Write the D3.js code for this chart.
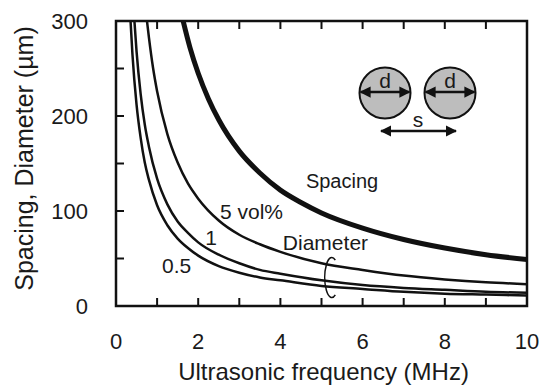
<!DOCTYPE html>
<html>
<head>
<meta charset="utf-8">
<script src="https://cdn.jsdelivr.net/npm/d3@7"></script>
<style>
  body { margin: 0; background: #fff; }
  svg text { font-family: "Liberation Sans", Arial, sans-serif; fill: #1a1a1a; }
</style>
</head>
<body>
<div id="chart"></div>
<script>
// values (frequency in MHz, size in µm)
var spacingF = [1.6, 1.8, 2, 2.25, 2.5, 3, 3.5, 4, 4.5, 5, 6, 7, 8, 9, 10];
var spacingV = [306, 272, 245, 218, 196, 163, 140, 122, 109, 98, 82, 70, 61, 54, 49];

var vol5F = [0.74, 0.8, 0.9, 1, 1.25, 1.5, 1.75, 2, 2.5, 3, 3.5, 4, 5, 6, 7, 8, 9, 10];
var vol5V = [305, 283, 251, 226, 181, 151, 129, 113, 90, 75, 65, 57, 45, 38, 32, 28, 25, 23];

var vol1F = [0.44, 0.5, 0.6, 0.7, 0.8, 1, 1.25, 1.5, 1.75, 2, 2.5, 3, 3.5, 4, 5, 6, 7, 8, 9, 10];
var vol1V = [305, 268, 223, 191, 168, 134, 107, 89, 77, 67, 54, 45, 38, 34, 27, 22, 19, 17, 15, 14];

var vol05F = [0.35, 0.4, 0.5, 0.6, 0.7, 0.8, 1, 1.25, 1.5, 1.75, 2, 2.5, 3, 3.5, 4, 5, 6, 7, 8, 9, 10];
var vol05V = [303, 265, 212, 177, 151, 133, 106, 85, 71, 61, 53, 42, 35, 30, 27, 21, 18, 15, 13, 12, 11];

var xTicks = [0, 2, 4, 6, 8, 10];
var yTicks = [0, 100, 200, 300];

var width = 539, height = 387;
var margin = { top: 21, right: 12, bottom: 81, left: 116 };
var w = width - margin.left - margin.right,
    h = height - margin.top - margin.bottom;

var svg = d3.select("#chart").append("svg")
  .attr("width", width)
  .attr("height", height);

var g = svg.append("g")
  .attr("transform", "translate(" + margin.left + "," + margin.top + ")");

var x = d3.scaleLinear().domain([0, 10]).range([0, w]);
var y = d3.scaleLinear().domain([0, 300]).range([h, 0]);

g.append("clipPath").attr("id", "plot-clip")
  .append("rect").attr("width", w).attr("height", h);

/* ------- CURVES -------*/
var line = d3.line()
  .x(function (d) { return x(d[0]); })
  .y(function (d) { return y(d[1]); })
  .curve(d3.curveMonotoneX);

var series = [
  { f: spacingF, v: spacingV, sw: 5 },
  { f: vol5F, v: vol5V, sw: 2.5 },
  { f: vol1F, v: vol1V, sw: 2.5 },
  { f: vol05F, v: vol05V, sw: 2.5 }
];

g.append("g").attr("clip-path", "url(#plot-clip)")
  .selectAll("path")
  .data(series)
  .enter().append("path")
  .attr("fill", "none")
  .attr("stroke", "#111")
  .attr("stroke-width", function (d) { return d.sw; })
  .attr("d", function (d) { return line(d3.zip(d.f, d.v)); });

/* ------- AXES -------*/
var tickLen = 8;
var xMinor = d3.range(0, 11, 1), yMinor = d3.range(0, 301, 50);

// bottom ticks (inward) + top ticks (inward)
g.append("g").selectAll("line.xb").data(xMinor).enter().append("line")
  .attr("x1", x).attr("x2", x).attr("y1", h).attr("y2", h - tickLen)
  .attr("stroke", "#111").attr("stroke-width", 2);
g.append("g").selectAll("line.xt").data(xMinor).enter().append("line")
  .attr("x1", x).attr("x2", x).attr("y1", 0).attr("y2", tickLen)
  .attr("stroke", "#111").attr("stroke-width", 2);
g.append("g").selectAll("line.yl").data(yMinor).enter().append("line")
  .attr("x1", 0).attr("x2", tickLen).attr("y1", y).attr("y2", y)
  .attr("stroke", "#111").attr("stroke-width", 2);

g.append("rect")
  .attr("width", w).attr("height", h)
  .attr("fill", "none").attr("stroke", "#111").attr("stroke-width", 2.5);

g.append("g").selectAll("text").data(xTicks).enter().append("text")
  .attr("x", x).attr("y", h + 43)
  .attr("text-anchor", "middle")
  .style("font-size", "22px")
  .text(function (d) { return d; });

g.append("g").selectAll("text").data(yTicks).enter().append("text")
  .attr("x", -28).attr("y", function (d) { return y(d) + 8; })
  .attr("text-anchor", "end")
  .style("font-size", "22px")
  .text(function (d) { return d; });

svg.append("text")
  .attr("x", margin.left + w / 2 + 2).attr("y", 380)
  .attr("text-anchor", "middle")
  .style("font-size", "24px")
  .text("Ultrasonic frequency (MHz)");

svg.append("text")
  .attr("transform", "translate(33," + (margin.top + h / 2 - 5) + ") rotate(-90)")
  .attr("text-anchor", "middle")
  .style("font-size", "25px")
  .text("Spacing, Diameter (µm)");

/* ------- LABELS -------*/
var labels = [
  { t: "Spacing", f: 4.62, v: 124 },
  { t: "5 vol%", f: 2.53, v: 92 },
  { t: "1", f: 2.17, v: 64 },
  { t: "0.5", f: 1.12, v: 35 },
  { t: "Diameter", f: 4.06, v: 59 }
];
g.append("g").selectAll("text").data(labels).enter().append("text")
  .attr("x", function (d) { return x(d.f); })
  .attr("y", function (d) { return y(d.v); })
  .style("font-size", function (d) { return d.t === "Spacing" ? "20px" : "21px"; })
  .text(function (d) { return d.t; });

// bracket round the diameter curves
var bx = x(5.25), by = y(30), rx = 7, ry = 20;
var a0 = -Math.PI / 3, a1 = Math.PI / 3;
g.append("path")
  .attr("fill", "none").attr("stroke", "#111").attr("stroke-width", 1.6)
  .attr("d", "M" + (bx + rx * Math.cos(a0)) + "," + (by + ry * Math.sin(a0)) +
    " A" + rx + "," + ry + " 0 1 0 " + (bx + rx * Math.cos(a1)) + "," + (by + ry * Math.sin(a1)));

/* ------- INSET SKETCH -------*/
svg.append("defs").append("marker")
  .attr("id", "head").attr("viewBox", "0 0 10 10")
  .attr("refX", 9).attr("refY", 5)
  .attr("markerWidth", 4.5).attr("markerHeight", 4.5)
  .attr("orient", "auto-start-reverse")
  .append("path").attr("d", "M0,0 L10,5 L0,10 z").attr("fill", "#111");

var inset = svg.append("g");
var r = 25.5, cy = 93;
[385, 450].forEach(function (cx) {
  inset.append("circle").attr("cx", cx).attr("cy", cy).attr("r", r)
    .attr("fill", "#bdbdbd").attr("stroke", "#111").attr("stroke-width", 2);
  inset.append("line")
    .attr("x1", cx - r + 1).attr("x2", cx + r - 1).attr("y1", cy - 1).attr("y2", cy - 1)
    .attr("stroke", "#111").attr("stroke-width", 2.5)
    .attr("marker-start", "url(#head)").attr("marker-end", "url(#head)");
  inset.append("text").attr("x", cx).attr("y", cy - 5)
    .attr("text-anchor", "middle").style("font-size", "21px").text("d");
});
inset.append("line")
  .attr("x1", 381).attr("x2", 456).attr("y1", 131).attr("y2", 131)
  .attr("stroke", "#111").attr("stroke-width", 2.5)
  .attr("marker-start", "url(#head)").attr("marker-end", "url(#head)");
inset.append("text").attr("x", 418).attr("y", 127)
  .attr("text-anchor", "middle").style("font-size", "21px").text("s");
</script>
</body>
</html>
